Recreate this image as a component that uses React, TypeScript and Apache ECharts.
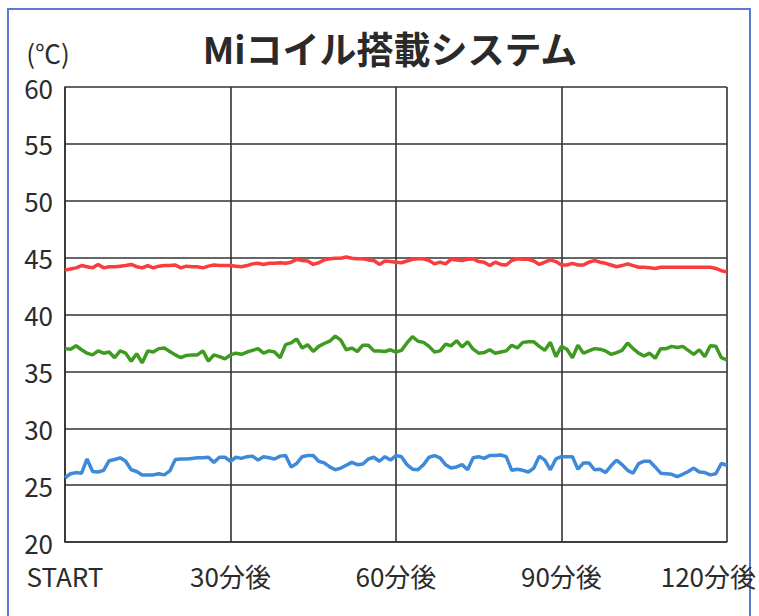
import React, { useEffect, useRef } from "react";
import * as echarts from "echarts";

const titleText = "Miコイル搭載システム";
const unitText = "(℃)";
const xTickLabels = ["START", "30分後", "60分後", "90分後", "120分後"];
const xTickMinutes = [0, 30, 60, 90, 120];
const yMin = 20;
const yMax = 60;
const yStep = 5;

// one value per minute, 0..120
const redSeries = [
  43.9, 44.0, 44.1, 44.3, 44.2, 44.1, 44.4, 44.1, 44.2, 44.2,
  44.25, 44.3, 44.4, 44.2, 44.1, 44.3, 44.1, 44.25, 44.3, 44.3,
  44.35, 44.1, 44.25, 44.2, 44.2, 44.1, 44.25, 44.35, 44.3, 44.3,
  44.3, 44.25, 44.2, 44.3, 44.45, 44.5, 44.4, 44.5, 44.5, 44.55,
  44.5, 44.6, 44.85, 44.75, 44.7, 44.4, 44.55, 44.8, 44.9, 44.95,
  44.95, 45.05, 44.95, 44.9, 44.9, 44.8, 44.75, 44.4, 44.7, 44.65,
  44.6, 44.55, 44.7, 44.85, 44.9, 44.9, 44.75, 44.45, 44.6, 44.45,
  44.85, 44.8, 44.75, 44.85, 44.9, 44.65, 44.6, 44.3, 44.6, 44.4,
  44.35, 44.75, 44.9, 44.85, 44.85, 44.7, 44.4, 44.6, 44.8, 44.65,
  44.35, 44.35, 44.5, 44.35, 44.35, 44.6, 44.75, 44.6, 44.5, 44.35,
  44.2, 44.3, 44.45, 44.3, 44.15, 44.15, 44.1, 44.05, 44.15, 44.15,
  44.15, 44.15, 44.15, 44.15, 44.15, 44.15, 44.15, 44.15, 44.05, 43.85,
  43.75,
];

const greenSeries = [
  37.0, 36.95, 37.25, 36.9, 36.6, 36.45, 36.8, 36.6, 36.7, 36.2,
  36.8, 36.6, 35.9, 36.55, 35.75, 36.8, 36.7, 37.0, 37.05, 36.75,
  36.45, 36.2, 36.4, 36.45, 36.45, 36.8, 35.9, 36.45, 36.3, 36.1,
  36.45, 36.6, 36.5, 36.7, 36.85, 37.0, 36.6, 36.8, 36.7, 36.2,
  37.35, 37.5, 37.85, 37.05, 37.35, 36.75, 37.2, 37.45, 37.65, 38.1,
  37.75, 36.9, 37.05, 36.75, 37.3, 37.3, 36.8, 36.8, 36.75, 36.9,
  36.7, 36.85, 37.5, 38.05, 37.65, 37.55, 37.2, 36.7, 36.8, 37.4,
  37.25, 37.7, 37.15, 37.6, 36.95, 36.6, 36.65, 36.9, 36.6, 36.7,
  36.8, 37.3, 37.05, 37.55, 37.6, 37.6, 37.2, 36.85, 37.55, 36.3,
  37.2, 36.95, 36.2, 37.3, 36.6, 36.8, 37.0, 36.95, 36.8, 36.5,
  36.65, 36.85, 37.5, 37.0, 36.6, 36.35, 36.6, 36.15, 37.0, 37.0,
  37.2, 37.1, 37.2, 36.85, 36.5, 36.9, 36.3, 37.25, 37.2, 36.2,
  36.0,
];

const blueSeries = [
  25.65, 26.0, 26.1, 26.05, 27.3, 26.2, 26.15, 26.3, 27.15, 27.25,
  27.4, 27.1, 26.35, 26.2, 25.9, 25.9, 25.9, 26.0, 25.9, 26.25,
  27.25, 27.3, 27.3, 27.35, 27.4, 27.4, 27.45, 27.0, 27.45, 27.45,
  27.1, 27.45, 27.35, 27.5, 27.55, 27.2, 27.5, 27.4, 27.3, 27.55,
  27.6, 26.6, 26.9, 27.5, 27.6, 27.6, 27.1, 26.95, 26.6, 26.35,
  26.5, 26.75, 27.0, 26.8, 26.85, 27.3, 27.45, 27.1, 27.5, 27.2,
  27.6, 27.5, 26.8, 26.4, 26.35, 26.8, 27.45, 27.6, 27.4, 26.8,
  26.5, 26.6, 26.8, 26.35, 27.4, 27.5, 27.35, 27.6, 27.6, 27.65,
  27.5, 26.3, 26.4, 26.3, 26.15, 26.5, 27.55, 27.2, 26.35, 27.3,
  27.5, 27.5, 27.5, 26.4, 26.95, 26.95, 26.35, 26.4, 26.1, 26.7,
  27.2, 26.8, 26.3, 26.05, 26.9, 27.1, 27.1, 26.6, 26.05, 26.0,
  25.95, 25.75, 25.95, 26.2, 26.5, 26.15, 26.1, 25.9, 26.0, 26.9,
  26.75,
];

const FONT = "'Noto Sans CJK JP', 'Noto Sans', sans-serif";
const TEXT_COLOR = "#2b2b2b";
const GRID_COLOR = "#333333";

export default function App() {
  const ref = useRef<HTMLDivElement>(null);

  useEffect(() => {
    if (!ref.current) return;
    const chart = echarts.init(ref.current, undefined, { renderer: "svg" });
    const toPairs = (arr: number[]) => arr.map((v, i) => [i, v]);
    const lineSeries = (name: string, arr: number[], color: string) => ({
      name,
      type: "line",
      data: toPairs(arr),
      showSymbol: false,
      symbol: "none",
      lineStyle: { color, width: 3.5 },
      itemStyle: { color },
      z: 3,
    });

    chart.setOption({
      animation: false,
      backgroundColor: "#ffffff",
      textStyle: { fontFamily: FONT },
      title: {
        text: titleText,
        left: 385,
        top: 24,
        textAlign: "center",
        textStyle: {
          fontFamily: FONT,
          fontSize: 37,
          fontWeight: "bold",
          color: "#2a2a2a",
        },
      },
      graphic: [
        {
          type: "rect",
          shape: { x: 8, y: 9, width: 742, height: 640 },
          style: { fill: "none", stroke: "#5a7bd0", lineWidth: 2 },
          silent: true,
          z: 0,
        },
        {
          type: "text",
          x: 48,
          y: 52,
          style: {
            text: unitText,
            fontFamily: FONT,
            fontSize: 26,
            fill: TEXT_COLOR,
            textAlign: "center",
            textVerticalAlign: "middle",
          },
        },
      ],
      grid: { left: 65, right: 29, top: 87, bottom: 74, containLabel: false },
      xAxis: {
        type: "value",
        min: 0,
        max: 120,
        interval: 30,
        axisLine: { show: true, lineStyle: { color: GRID_COLOR, width: 1.6 } },
        axisTick: { show: false },
        splitLine: { show: true, lineStyle: { color: GRID_COLOR, width: 1.6 } },
        axisLabel: {
          margin: 20,
          fontFamily: FONT,
          fontSize: 26,
          color: TEXT_COLOR,
          formatter: (v: number) => {
            const idx = xTickMinutes.indexOf(v);
            if (idx < 0) return "";
            if (idx === xTickLabels.length - 1) return "{last|" + xTickLabels[idx] + "}";
            return xTickLabels[idx];
          },
          rich: {
            last: {
              fontFamily: FONT,
              fontSize: 26,
              color: TEXT_COLOR,
              padding: [0, 37, 0, 0],
            },
          },
        },
      },
      yAxis: {
        type: "value",
        min: yMin,
        max: yMax,
        interval: yStep,
        axisLine: { show: true, lineStyle: { color: GRID_COLOR, width: 1.6 } },
        axisTick: { show: false },
        splitLine: { show: true, lineStyle: { color: GRID_COLOR, width: 1.6 } },
        axisLabel: {
          margin: 12,
          fontFamily: FONT,
          fontSize: 26,
          color: TEXT_COLOR,
        },
      },
      series: [
        lineSeries("red", redSeries, "#fa3c3c"),
        lineSeries("green", greenSeries, "#3f9a20"),
        lineSeries("blue", blueSeries, "#3f8ad8"),
      ],
    });

    return () => chart.dispose();
  }, []);

  return (
    <div
      ref={ref}
      style={{ position: "fixed", left: 0, top: 0, width: 759, height: 616 }}
    />
  );
}
